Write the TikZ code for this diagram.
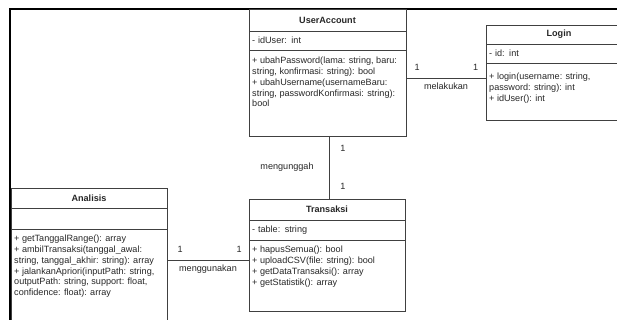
\documentclass[tikz,border=0pt]{standalone}
\usepackage{fontspec}
\setmainfont{Liberation Sans}
\usetikzlibrary{positioning}

\begin{document}
\begin{tikzpicture}[
  x=1pt, y=-1pt,
  every node/.style={font=\fontsize{9.1}{10.8}\selectfont, text=black!85},
  classbox/.style={draw=black!75, line width=0.8pt, inner sep=0pt, outer sep=0pt},
  classhead/.style={classbox, anchor=north west, font=\fontsize{9.1}{10.8}\selectfont\bfseries},
  classattr/.style={classbox, inner xsep=3pt, align=left},
  opstext/.style={inner sep=0pt, align=left},
  mult/.style={inner sep=1pt},
  rel/.style={draw=black!75, line width=0.8pt},
  frame/.style={draw=black, line width=1.8pt}
]
\clip (0,0) rectangle (617,320);

% outer frame
\draw[frame] (10,9) rectangle (660,360);

% UserAccount
\node[classhead, minimum width=157pt, minimum height=22pt] (ua) at (249,9) {UserAccount};
\node[classattr, text width=151pt, minimum height=19pt, below=0pt of ua] (ua-attr) {- idUser: int};
\node[classbox, minimum width=157pt, minimum height=86pt, below=0pt of ua-attr] (ua-ops) {};
\node[opstext, below right=7pt and 3pt of ua-ops.north west] (ua-ops-txt) {+ ubahPassword(lama: string, baru:\\ string, konfirmasi: string): bool\\ + ubahUsername(usernameBaru:\\ string, passwordKonfirmasi: string):\\ bool};

% Login
\node[classhead, minimum width=146pt, minimum height=19pt] (lg) at (486,25) {Login};
\node[classattr, text width=140pt, minimum height=19pt, below=0pt of lg] (lg-attr) {- id: int};
\node[classbox, minimum width=146pt, minimum height=57pt, below=0pt of lg-attr] (lg-ops) {};
\node[opstext, below right=10pt and 3pt of lg-ops.north west] (lg-ops-txt) {+ login(username: string,\\ password: string): int\\ + idUser(): int};

% Transaksi
\node[classhead, minimum width=156pt, minimum height=21pt] (tr) at (249,199) {Transaksi};
\node[classattr, text width=150pt, minimum height=20pt, below=0pt of tr] (tr-attr) {- table: string};
\node[classbox, minimum width=156pt, minimum height=71pt, below=0pt of tr-attr] (tr-ops) {};
\node[opstext, below right=6pt and 3pt of tr-ops.north west] (tr-ops-txt) {+ hapusSemua(): bool\\ + uploadCSV(file: string): bool\\ + getDataTransaksi(): array\\ + getStatistik(): array};

% Analisis
\node[classhead, minimum width=156pt, minimum height=20pt] (an) at (11,188) {Analisis};
\node[classattr, text width=150pt, minimum height=21pt, below=0pt of an] (an-attr) {};
\node[classbox, minimum width=156pt, minimum height=120pt, below=0pt of an-attr] (an-ops) {};
\node[opstext, below right=6pt and 3pt of an-ops.north west] (an-ops-txt) {+ getTanggalRange(): array\\ + ambilTransaksi(tanggal\_awal:\\ string, tanggal\_akhir: string): array\\ + jalankanApriori(inputPath: string,\\ outputPath: string, support: float,\\ confidence: float): array};

% relations
\coordinate (lg-in) at ([yshift=-15pt]lg-ops.north west);
\coordinate (tr-in) at ([yshift=-20pt]tr-ops.north west);

\draw[rel] (ua-ops.east |- lg-in) -- (lg-in)
  node[mult, pos=0.14, above=6pt] {1}
  node[mult, pos=0.87, above=6pt] {1}
  node[mult, midway, below=4pt] {melakukan};
\draw[rel] ([xshift=1.5pt]ua-ops.south) -- ([xshift=1.5pt]ua-ops.south |- tr.north)
  node[mult, pos=0.2, right=10pt] {1}
  node[mult, pos=0.8, right=10pt] {1}
  node[mult, midway, left=14pt] {mengunggah};
\draw[rel] (an-ops.east |- tr-in) -- (tr-in)
  node[mult, pos=0.16, above=6pt] {1}
  node[mult, pos=0.88, above=6pt] {1}
  node[mult, midway, below=4pt] {menggunakan};
\end{tikzpicture}
\end{document}
